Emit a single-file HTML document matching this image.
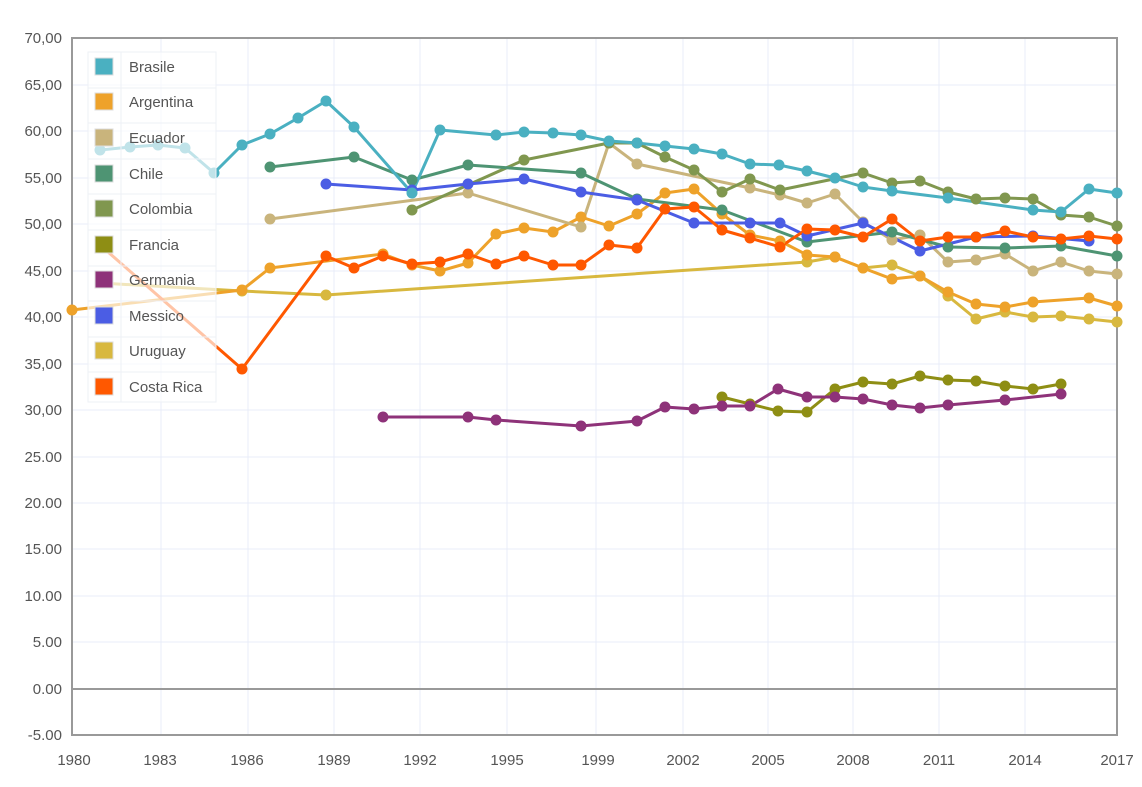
<!DOCTYPE html>
<html><head><meta charset="utf-8"><style>
html,body{margin:0;padding:0;background:#fff;width:1142px;height:787px;overflow:hidden}
text{font-family:"Liberation Sans","DejaVu Sans",sans-serif;fill:#555;font-size:15px}
</style></head><body>
<svg width="1142" height="787" xmlns="http://www.w3.org/2000/svg">
<g stroke="#e8ecf8" stroke-width="1">
<line x1="72" y1="85" x2="1117" y2="85"/><line x1="72" y1="131" x2="1117" y2="131"/><line x1="72" y1="178" x2="1117" y2="178"/><line x1="72" y1="224" x2="1117" y2="224"/><line x1="72" y1="271" x2="1117" y2="271"/><line x1="72" y1="317" x2="1117" y2="317"/><line x1="72" y1="364" x2="1117" y2="364"/><line x1="72" y1="410" x2="1117" y2="410"/><line x1="72" y1="457" x2="1117" y2="457"/><line x1="72" y1="503" x2="1117" y2="503"/><line x1="72" y1="549" x2="1117" y2="549"/><line x1="72" y1="596" x2="1117" y2="596"/><line x1="72" y1="642" x2="1117" y2="642"/>
<line x1="161" y1="38" x2="161" y2="735"/><line x1="248" y1="38" x2="248" y2="735"/><line x1="334" y1="38" x2="334" y2="735"/><line x1="420" y1="38" x2="420" y2="735"/><line x1="507" y1="38" x2="507" y2="735"/><line x1="596" y1="38" x2="596" y2="735"/><line x1="683" y1="38" x2="683" y2="735"/><line x1="768" y1="38" x2="768" y2="735"/><line x1="853" y1="38" x2="853" y2="735"/><line x1="939" y1="38" x2="939" y2="735"/><line x1="1025" y1="38" x2="1025" y2="735"/>
</g>
<rect x="72" y="38" width="1045" height="697" fill="none" stroke="#999" stroke-width="2"/>
<line x1="72" y1="689" x2="1117" y2="689" stroke="#999" stroke-width="2"/>
<g text-anchor="end">
<text x="62" y="43">70,00</text><text x="62" y="90">65,00</text><text x="62" y="136">60,00</text><text x="62" y="183">55,00</text><text x="62" y="229">50,00</text><text x="62" y="276">45,00</text><text x="62" y="322">40,00</text><text x="62" y="369">35,00</text><text x="62" y="415">30,00</text><text x="62" y="462">25.00</text><text x="62" y="508">20.00</text><text x="62" y="554">15.00</text><text x="62" y="601">10.00</text><text x="62" y="647">5.00</text><text x="62" y="694">0.00</text><text x="62" y="740">-5.00</text>
</g>
<g text-anchor="middle">
<text x="74" y="765">1980</text><text x="160" y="765">1983</text><text x="247" y="765">1986</text><text x="334" y="765">1989</text><text x="420" y="765">1992</text><text x="507" y="765">1995</text><text x="598" y="765">1999</text><text x="683" y="765">2002</text><text x="768" y="765">2005</text><text x="853" y="765">2008</text><text x="939" y="765">2011</text><text x="1025" y="765">2014</text><text x="1117" y="765">2017</text>
</g>
<g fill="none" stroke-width="3" stroke-linejoin="round">
<polyline stroke="#d8b83f" points="100,283 242,291 326,295 807,262 835,257 863,268 892,265 920,276 948,296 976,319 1005,312 1033,317 1061,316 1089,319 1117,322"/>
<polyline stroke="#eea22a" points="72,310 242,290 270,268 383,254 412,265 440,271 468,263 496,234 524,228 553,232 581,217 609,226 637,214 665,193 694,189 722,214 750,235 780,241 807,255 835,257 863,268 892,279 920,276 948,292 976,304 1005,307 1033,302 1089,298 1117,306"/>
<polyline stroke="#c9b47c" points="270,219 468,193 581,227 609,143 637,164 750,188 780,195 807,203 835,194 863,222 892,240 920,235 948,262 976,260 1005,254 1033,271 1061,262 1089,271 1117,274"/>
<polyline stroke="#80974f" points="412,210 524,160 609,143 637,143 665,157 694,170 722,192 750,179 780,190 863,173 892,183 920,181 948,192 976,199 1005,198 1033,199 1061,215 1089,217 1117,226"/>
<polyline stroke="#4e9473" points="270,167 354,157 412,180 468,165 581,173 637,199 722,210 807,242 892,232 948,247 1005,248 1061,246 1117,256"/>
<polyline stroke="#4b5de4" points="326,184 412,190 468,184 524,179 581,192 637,200 694,223 750,223 780,223 807,236 863,223 920,251 976,237 1033,236 1089,241"/>
<polyline stroke="#4ab0c1" points="100,150 130,147 158,145 185,148 214,173 242,145 270,134 298,118 326,101 354,127 412,193 440,130 496,135 524,132 553,133 581,135 609,141 637,143 665,146 694,149 722,154 750,164 779,165 807,171 835,178 863,187 892,191 948,198 1033,210 1061,212 1089,189 1117,193"/>
<polyline stroke="#ff5800" points="100,245 242,369 326,256 354,268 383,256 412,264 440,262 468,254 496,264 524,256 553,265 581,265 609,245 637,248 665,209 694,207 722,230 750,238 780,247 807,229 835,230 863,237 892,219 920,241 948,237 976,237 1005,231 1033,237 1061,239 1089,236 1117,239"/>
<polyline stroke="#8e8e14" points="722,397 750,404 778,411 807,412 835,389 863,382 892,384 920,376 948,380 976,381 1005,386 1033,389 1061,384"/>
<polyline stroke="#8e3279" points="383,417 468,417 496,420 581,426 637,421 665,407 694,409 722,406 750,406 778,389 807,397 835,397 863,399 892,405 920,408 948,405 1005,400 1061,394"/>
</g>
<g id="dots"></g>
<rect x="88" y="52" width="128" height="350" fill="rgba(255,255,255,0.65)" stroke="#eef0f6"/>
<g stroke="#eef0f6">
<line x1="88" y1="88" x2="216" y2="88"/><line x1="88" y1="123" x2="216" y2="123"/><line x1="88" y1="159" x2="216" y2="159"/><line x1="88" y1="194" x2="216" y2="194"/><line x1="88" y1="230" x2="216" y2="230"/><line x1="88" y1="266" x2="216" y2="266"/><line x1="88" y1="301" x2="216" y2="301"/><line x1="88" y1="337" x2="216" y2="337"/><line x1="88" y1="372" x2="216" y2="372"/><line x1="121" y1="52" x2="121" y2="402"/>
</g>
<g stroke="#ddd" stroke-width="1">
<rect x="95" y="58" width="18" height="17" fill="#4ab0c1"/><rect x="95" y="93" width="18" height="17" fill="#eea22a"/><rect x="95" y="129" width="18" height="17" fill="#c9b47c"/><rect x="95" y="165" width="18" height="17" fill="#4e9473"/><rect x="95" y="200" width="18" height="17" fill="#80974f"/><rect x="95" y="236" width="18" height="17" fill="#8e8e14"/><rect x="95" y="271" width="18" height="17" fill="#8e3279"/><rect x="95" y="307" width="18" height="17" fill="#4b5de4"/><rect x="95" y="342" width="18" height="17" fill="#d8b83f"/><rect x="95" y="378" width="18" height="17" fill="#ff5800"/>
</g>
<g>
<text x="129" y="72">Brasile</text><text x="129" y="107">Argentina</text><text x="129" y="143">Ecuador</text><text x="129" y="179">Chile</text><text x="129" y="214">Colombia</text><text x="129" y="250">Francia</text><text x="129" y="285">Germania</text><text x="129" y="321">Messico</text><text x="129" y="356">Uruguay</text><text x="129" y="392">Costa Rica</text>
</g>
<script>
var g=document.getElementById('dots');
document.querySelectorAll('polyline').forEach(function(p){
 var c=p.getAttribute('stroke');
 p.getAttribute('points').trim().split(/\s+/).forEach(function(s){
  var a=s.split(',');
  var e=document.createElementNS('http://www.w3.org/2000/svg','circle');
  e.setAttribute('cx',a[0]);e.setAttribute('cy',a[1]);e.setAttribute('r','5.5');e.setAttribute('fill',c);
  g.appendChild(e);
 });
});
</script>
</svg>
</body></html>
